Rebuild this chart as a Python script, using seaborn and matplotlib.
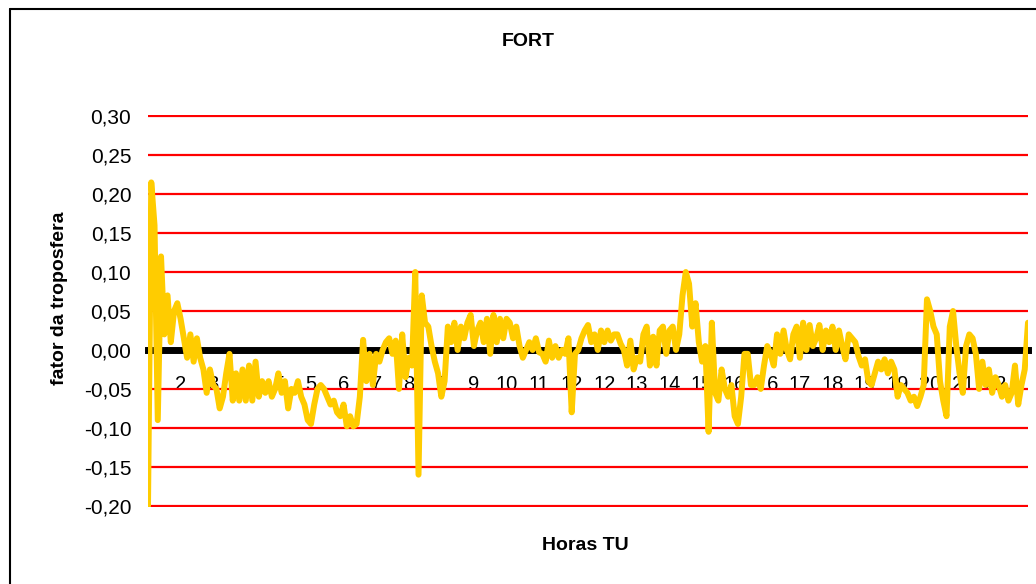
import matplotlib
matplotlib.use('Agg')
import matplotlib.pyplot as plt
from matplotlib.lines import Line2D
import seaborn as sns
import pandas as pd

# fator da troposfera, amostras (FORT)
fator = [
    -0.200, 0.215, 0.160, -0.090, 0.120, 0.020, 0.070, 0.010, 0.050, 0.060,
    0.040, 0.015, -0.010, 0.020, -0.015, 0.015, -0.010, -0.025, -0.055, -0.025,
    -0.045, -0.050, -0.075, -0.060, -0.030, -0.005, -0.065, -0.030, -0.065, -0.025,
    -0.065, -0.020, -0.065, -0.015, -0.060, -0.040, -0.055, -0.040, -0.060, -0.050,
    -0.030, -0.055, -0.040, -0.075, -0.050, -0.055, -0.040, -0.060, -0.070, -0.090,
    -0.095, -0.070, -0.050, -0.045, -0.050, -0.060, -0.070, -0.065, -0.080, -0.085,
    -0.070, -0.098, -0.085, -0.098, -0.095, -0.060, 0.013, -0.040, -0.005, -0.045,
    -0.005, -0.015, 0.000, 0.010, 0.015, -0.005, 0.012, -0.050, 0.020, -0.035,
    -0.010, -0.020, 0.100, -0.160, 0.070, 0.035, 0.030, 0.005, -0.015, -0.030,
    -0.060, -0.040, 0.030, 0.010, 0.035, 0.000, 0.030, 0.015, 0.035, 0.045,
    0.005, 0.025, 0.035, 0.010, 0.040, -0.005, 0.045, 0.010, 0.040, 0.015,
    0.040, 0.035, 0.015, 0.030, 0.005, -0.010, 0.000, 0.010, 0.000, 0.015,
    -0.003, -0.005, -0.015, 0.012, -0.010, 0.005, -0.010, 0.000, -0.005, 0.015,
    -0.080, -0.005, 0.000, 0.015, 0.025, 0.032, 0.010, 0.020, 0.000, 0.025,
    0.010, 0.025, 0.012, 0.020, 0.020, 0.008, 0.000, -0.020, 0.012, -0.025,
    -0.010, -0.015, 0.020, 0.030, -0.020, 0.017, -0.020, 0.025, 0.030, -0.005,
    0.025, 0.030, 0.000, 0.020, 0.070, 0.100, 0.085, 0.030, 0.060, 0.010,
    -0.015, 0.005, -0.105, 0.035, -0.055, -0.065, -0.025, -0.050, -0.060, -0.045,
    -0.085, -0.095, -0.060, -0.005, -0.005, -0.045, -0.045, -0.035, -0.050, -0.020,
    0.005, -0.005, -0.020, 0.020, -0.005, 0.025, 0.000, -0.012, 0.020, 0.030,
    -0.010, 0.035, 0.000, 0.032, 0.005, 0.015, 0.032, 0.000, 0.025, 0.010,
    0.030, 0.000, 0.025, 0.005, -0.012, 0.020, 0.015, 0.010, -0.008, -0.020,
    -0.012, -0.040, -0.045, -0.030, -0.015, -0.025, -0.012, -0.030, -0.015, -0.025,
    -0.060, -0.045, -0.050, -0.055, -0.065, -0.060, -0.072, -0.060, -0.045, 0.065,
    0.050, 0.030, 0.020, -0.040, -0.065, -0.085, 0.030, 0.050, 0.005, -0.030,
    -0.055, 0.005, 0.020, 0.015, -0.005, -0.050, -0.015, -0.045, -0.025, -0.055,
    -0.035, -0.045, -0.060, -0.045, -0.065, -0.055, -0.020, -0.070, -0.045, -0.025,
    0.035,
]

# rótulos do eixo das categorias (horas TU), um a cada 10 amostras
horas = ['2', '3', '4', '5', '5', '6', '7', '8', '9', '9', '10', '11', '12',
         '12', '13', '14', '15', '16', '16', '17', '18', '19', '19', '20', '21', '22']
passo_rotulo = 10

y_ticks = [-0.20, -0.15, -0.10, -0.05, 0.00, 0.05, 0.10, 0.15, 0.20, 0.25, 0.30]
y_labels = ['-0,20', '-0,15', '-0,10', '-0,05', '0,00', '0,05', '0,10', '0,15',
            '0,20', '0,25', '0,30']

df = pd.DataFrame({'amostra': range(len(fator)), 'fator': fator})

sns.set_style('white')
plt.rcParams['font.family'] = ['Liberation Sans', 'DejaVu Sans']
plt.rcParams['text.color'] = 'black'
plt.rcParams['xtick.color'] = 'black'
plt.rcParams['ytick.color'] = 'black'

fig = plt.figure(figsize=(10.36, 5.84), dpi=100)
ax = fig.add_axes([148 / 1036, 1 - 507 / 584, 880 / 1036, 392 / 584])

sns.lineplot(data=df, x='amostra', y='fator', ax=ax, color='#FFCC00',
             linewidth=4.3, zorder=3, sort=False)

ax.set_xlim(0, len(fator) - 1)
ax.set_ylim(-0.2015, 0.3015)
ax.set_yticks(y_ticks)
ax.set_yticklabels(y_labels)
ax.set_xticks(range(passo_rotulo, passo_rotulo * (len(horas) + 1), passo_rotulo))
ax.set_xticklabels(horas)
ax.tick_params(axis='y', length=0, pad=12, labelsize=15, labelcolor='black')
ax.tick_params(axis='x', length=0, pad=18, labelsize=14.5, labelcolor='black')

ax.yaxis.grid(True, color='red', linewidth=1.6)
ax.xaxis.grid(False)
for s in ['top', 'right', 'left']:
    ax.spines[s].set_visible(False)
ax.spines['bottom'].set_position(('data', 0))
ax.spines['bottom'].set_color('black')
ax.spines['bottom'].set_linewidth(5)
ax.set_xlabel('')
ax.set_ylabel('')

fig.text(528 / 1036, 1 - 41 / 584, 'FORT', ha='center', va='center',
         fontsize=14, fontweight='bold', color='black')
fig.text(585 / 1036, 1 - 545 / 584, 'Horas TU', ha='center', va='center',
         fontsize=14, fontweight='bold', color='black')
fig.text(60 / 1036, 1 - 298 / 584, 'fator da troposfera', ha='center', va='center',
         rotation=90, fontsize=14, fontweight='bold', color='black')

# moldura da área do gráfico (esquerda e topo)
fig.add_artist(Line2D([9.5 / 1036, 9.5 / 1036], [0, 1 - 8.5 / 584], color='black', lw=1.5))
fig.add_artist(Line2D([9.5 / 1036, 1], [1 - 8.5 / 584, 1 - 8.5 / 584], color='black', lw=1.5))

fig.savefig('out.png', dpi=100)
